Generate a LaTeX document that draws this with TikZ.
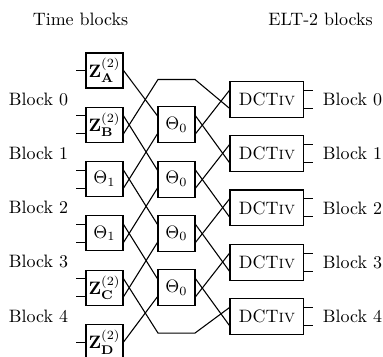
\documentclass[tikz,border=0pt]{standalone}
\usetikzlibrary{positioning}
\begin{document}
\begin{tikzpicture}[x=0.557pt, y=-0.557pt, node distance=30.25pt, line width=0.6pt]
% Styles
\tikzstyle{tblock} = [rectangle, draw, minimum width=20.6pt, minimum height=19.5pt, inner sep=0pt]
\tikzstyle{theta} = [rectangle, draw, minimum width=20.6pt, minimum height=20pt, inner sep=0pt]
\tikzstyle{dct} = [rectangle, draw, minimum width=41.2pt, minimum height=20pt, inner sep=0pt]
\tikzstyle{lbl} = [inner sep=0pt]

\useasboundingbox (0,0) rectangle (383,357);

% Titles
\node (ttime) [lbl] at (80.5,19) {Time blocks};
\node (telt) [lbl] at (320.5,19) {ELT-2 blocks};

% Time blocks
\node (za) [tblock] at (104.5,70.5) {$\mathbf{Z}^{(2)}_{\mathbf{A}}$};
\node (zb) [tblock, below of=za] {$\mathbf{Z}^{(2)}_{\mathbf{B}}$};
\node (ta) [tblock, below of=zb] {$\Theta_1$};
\node (tb) [tblock, below of=ta] {$\Theta_1$};
\node (zc) [tblock, below of=tb] {$\mathbf{Z}^{(2)}_{\mathbf{C}}$};
\node (zd) [tblock, below of=zc] {$\mathbf{Z}^{(2)}_{\mathbf{D}}$};

% Theta_0 blocks
\node (t1) [theta, right of=zb, node distance=40.1pt] {$\Theta_0$};
\node (t2) [theta, below of=t1] {$\Theta_0$};
\node (t3) [theta, below of=t2] {$\Theta_0$};
\node (t4) [theta, below of=t3] {$\Theta_0$};
\coordinate (t0) at ([yshift=30.25pt]t1);
\coordinate (t5) at ([yshift=-30.25pt]t4);

% DCT blocks
\node (d0) [dct, right of=t1, node distance=50.4pt, yshift=14.2pt] {DCT\textsc{iv}};
\node (d1) [dct, below of=d0] {DCT\textsc{iv}};
\node (d2) [dct, below of=d1] {DCT\textsc{iv}};
\node (d3) [dct, below of=d2] {DCT\textsc{iv}};
\node (d4) [dct, below of=d3] {DCT\textsc{iv}};

% Labels
\node (lb0) [lbl] at (38.5,99) {Block 0};
\node (lb1) [lbl, below of=lb0] {Block 1};
\node (lb2) [lbl, below of=lb1] {Block 2};
\node (lb3) [lbl, below of=lb2] {Block 3};
\node (lb4) [lbl, below of=lb3] {Block 4};
\node (rb0) [lbl, right=10pt of d0] {Block 0};
\node (rb1) [lbl, right=10pt of d1] {Block 1};
\node (rb2) [lbl, right=10pt of d2] {Block 2};
\node (rb3) [lbl, right=10pt of d3] {Block 3};
\node (rb4) [lbl, right=10pt of d4] {Block 4};

% Input stubs
\draw (za.west) -- ++(-5pt,0);
\draw ([yshift=5pt]zb.west) -- ++(-5pt,0);
\draw ([yshift=-5pt]zb.west) -- ++(-5pt,0);
\draw ([yshift=5pt]ta.west) -- ++(-5pt,0);
\draw ([yshift=-5pt]ta.west) -- ++(-5pt,0);
\draw ([yshift=5pt]tb.west) -- ++(-5pt,0);
\draw ([yshift=-5pt]tb.west) -- ++(-5pt,0);
\draw ([yshift=5pt]zc.west) -- ++(-5pt,0);
\draw ([yshift=-5pt]zc.west) -- ++(-5pt,0);
\draw (zd.west) -- ++(-5pt,0);

% Time blocks -> Theta_0
\draw (za.east) -- ([yshift=5pt]t1.west);
\draw ([yshift=5pt]zb.east) -- ([yshift=5pt]t2.west);
\draw ([yshift=-5pt]zb.east) -- ([xshift=-10.3pt,yshift=-5pt]t0) -- ([xshift=10.3pt,yshift=-5pt]t0) -- ([yshift=-5pt]d0.west);
\draw ([yshift=5pt]ta.east) -- ([yshift=5pt]t3.west);
\draw ([yshift=-5pt]ta.east) -- ([yshift=-5pt]t1.west);
\draw ([yshift=5pt]tb.east) -- ([yshift=5pt]t4.west);
\draw ([yshift=-5pt]tb.east) -- ([yshift=-5pt]t2.west);
\draw ([yshift=5pt]zc.east) -- ([xshift=-10.3pt,yshift=5pt]t5) -- ([xshift=10.3pt,yshift=5pt]t5) -- ([yshift=5pt]d4.west);
\draw ([yshift=-5pt]zc.east) -- ([yshift=-5pt]t3.west);
\draw (zd.east) -- ([yshift=-5pt]t4.west);

% Theta_0 -> DCT
\draw ([yshift=5pt]t1.east) -- ([yshift=-5pt]d1.west);
\draw ([yshift=-5pt]t1.east) -- ([yshift=5pt]d0.west);
\draw ([yshift=5pt]t2.east) -- ([yshift=-5pt]d2.west);
\draw ([yshift=-5pt]t2.east) -- ([yshift=5pt]d1.west);
\draw ([yshift=5pt]t3.east) -- ([yshift=-5pt]d3.west);
\draw ([yshift=-5pt]t3.east) -- ([yshift=5pt]d2.west);
\draw ([yshift=5pt]t4.east) -- ([yshift=-5pt]d4.west);
\draw ([yshift=-5pt]t4.east) -- ([yshift=5pt]d3.west);

% Output stubs
\draw ([yshift=5pt]d0.east) -- ++(5pt,0);
\draw ([yshift=-5pt]d0.east) -- ++(5pt,0);
\draw ([yshift=5pt]d1.east) -- ++(5pt,0);
\draw ([yshift=-5pt]d1.east) -- ++(5pt,0);
\draw ([yshift=5pt]d2.east) -- ++(5pt,0);
\draw ([yshift=-5pt]d2.east) -- ++(5pt,0);
\draw ([yshift=5pt]d3.east) -- ++(5pt,0);
\draw ([yshift=-5pt]d3.east) -- ++(5pt,0);
\draw ([yshift=5pt]d4.east) -- ++(5pt,0);
\draw ([yshift=-5pt]d4.east) -- ++(5pt,0);

\end{tikzpicture}
\end{document}
